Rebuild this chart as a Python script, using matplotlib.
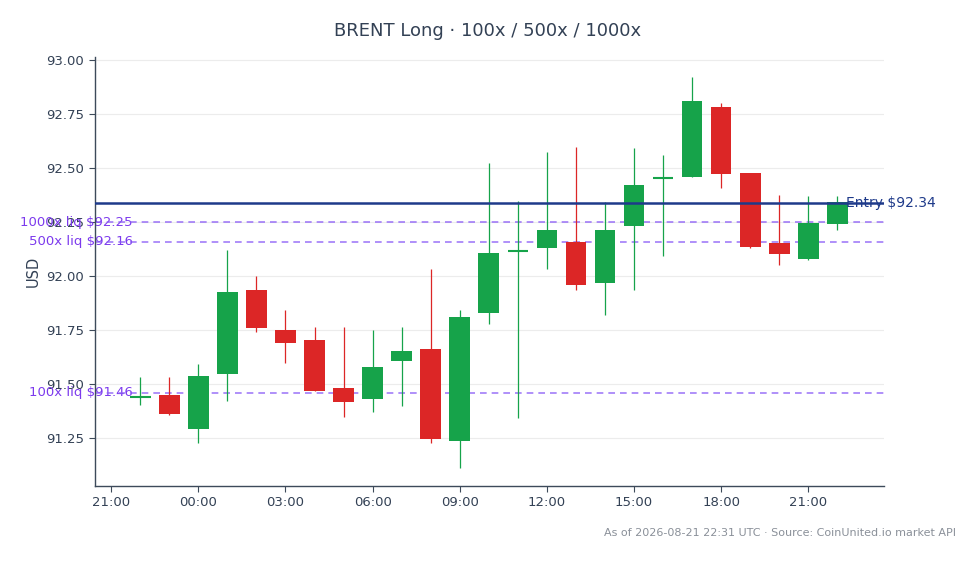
import datetime as dt
import matplotlib
matplotlib.use("Agg")
import matplotlib.pyplot as plt
import matplotlib.dates as mdates
import matplotlib.transforms as mtransforms

# hourly candles, 2026-08-20 22:00 -> 2026-08-21 22:00 UTC
start = dt.datetime(2026, 8, 20, 22, 0)
times = [start + dt.timedelta(hours=h) for h in range(25)]

opens = [91.44, 91.45, 91.295, 91.546, 91.935, 91.75, 91.705, 91.481, 91.43, 91.61,
         91.662, 91.239, 91.832, 92.118, 92.132, 92.157, 91.967, 92.231, 92.456, 92.46,
         92.781, 92.476, 92.152, 92.081, 92.243]
highs = [91.535, 91.535, 91.595, 92.12, 92.00, 91.845, 91.766, 91.766, 91.751, 91.766,
         92.035, 91.844, 92.522, 92.349, 92.574, 92.598, 92.342, 92.593, 92.559, 92.923,
         92.803, 92.476, 92.376, 92.371, 92.371]
lows = [91.404, 91.358, 91.227, 91.424, 91.74, 91.60, 91.47, 91.35, 91.373, 91.40,
        91.23, 91.114, 91.779, 91.346, 92.032, 91.936, 91.82, 91.936, 92.095, 92.46,
        92.409, 92.132, 92.052, 92.075, 92.214]
closes = [91.44, 91.365, 91.54, 91.925, 91.762, 91.69, 91.47, 91.42, 91.578, 91.653,
          91.245, 91.81, 92.106, 92.118, 92.212, 91.961, 92.212, 92.42, 92.456, 92.809,
          92.471, 92.136, 92.101, 92.246, 92.342]

entry_price = 92.34
liq_levels = [("100x", 91.46), ("500x", 92.16), ("1000x", 92.25)]

GREEN = "#16a34a"
RED = "#dc2626"
SLATE = "#334155"

fig = plt.figure(figsize=(9.78, 5.64), dpi=100)
ax = fig.add_axes([0.0968, 0.1383, 0.8072, 0.7612])

w = 0.71 / 24
for t, o, h, l, c in zip(times, opens, highs, lows, closes):
    col = GREEN if c >= o else RED
    x = mdates.date2num(t)
    ax.vlines(x, l, h, color=col, lw=0.9, zorder=3)
    if abs(c - o) < 0.004:
        ax.hlines(o, x - w / 2, x + w / 2, color=col, lw=1.5, zorder=4)
    else:
        ax.bar(x, abs(c - o), bottom=min(o, c), width=w, color=col, zorder=4)

ax.axhline(entry_price, color="#1e3a8a", lw=1.8, zorder=5)
for name, lvl in liq_levels:
    ax.axhline(lvl, color="#8b5cf6", lw=1.2, ls=(0, (4, 3)), alpha=0.8, zorder=2)

trans = mtransforms.blended_transform_factory(ax.transAxes, ax.transData)
for name, lvl in liq_levels:
    ax.text(0.048, lvl, f"{name} liq ${lvl:.2f}", transform=trans, ha="right",
            va="center", color="#7c3aed", fontsize=9.5, zorder=1, clip_on=False)
ax.text(0.952, entry_price, f"Entry ${entry_price:.2f}", transform=trans, ha="left",
        va="center", color="#1e3a8a", fontsize=10, zorder=6, clip_on=False)

x0 = mdates.date2num(times[0]) - 1.57 / 24
x1 = mdates.date2num(times[-1]) + 1.61 / 24
ax.set_xlim(x0, x1)
ax.set_ylim(91.030, 93.015)
ax.set_yticks([91.25, 91.5, 91.75, 92.0, 92.25, 92.5, 92.75, 93.0])
ax.yaxis.set_major_formatter(matplotlib.ticker.FormatStrFormatter("%.2f"))
ax.xaxis.set_major_locator(mdates.HourLocator(byhour=range(0, 24, 3)))
ax.xaxis.set_major_formatter(mdates.DateFormatter("%H:%M"))

ax.grid(axis="y", color="#ececec", lw=0.8, zorder=0)
ax.set_axisbelow(True)
for s in ["top", "right"]:
    ax.spines[s].set_visible(False)
for s in ["left", "bottom"]:
    ax.spines[s].set_color("#3d4a5a")
    ax.spines[s].set_linewidth(1.0)
ax.tick_params(colors="#3d4a5a", labelcolor=SLATE, labelsize=9.5, length=4)
ax.set_ylabel("USD", color=SLATE, fontsize=10.5, labelpad=4)

fig.text(0.499, 0.945, "BRENT Long · 100x / 500x / 1000x", ha="center", va="center",
         color=SLATE, fontsize=13)
fig.text(0.977, 0.055, "As of 2026-08-21 22:31 UTC · Source: CoinUnited.io market API",
         ha="right", va="center", color="#8a9099", fontsize=8)

fig.savefig("out.png", dpi=100)
